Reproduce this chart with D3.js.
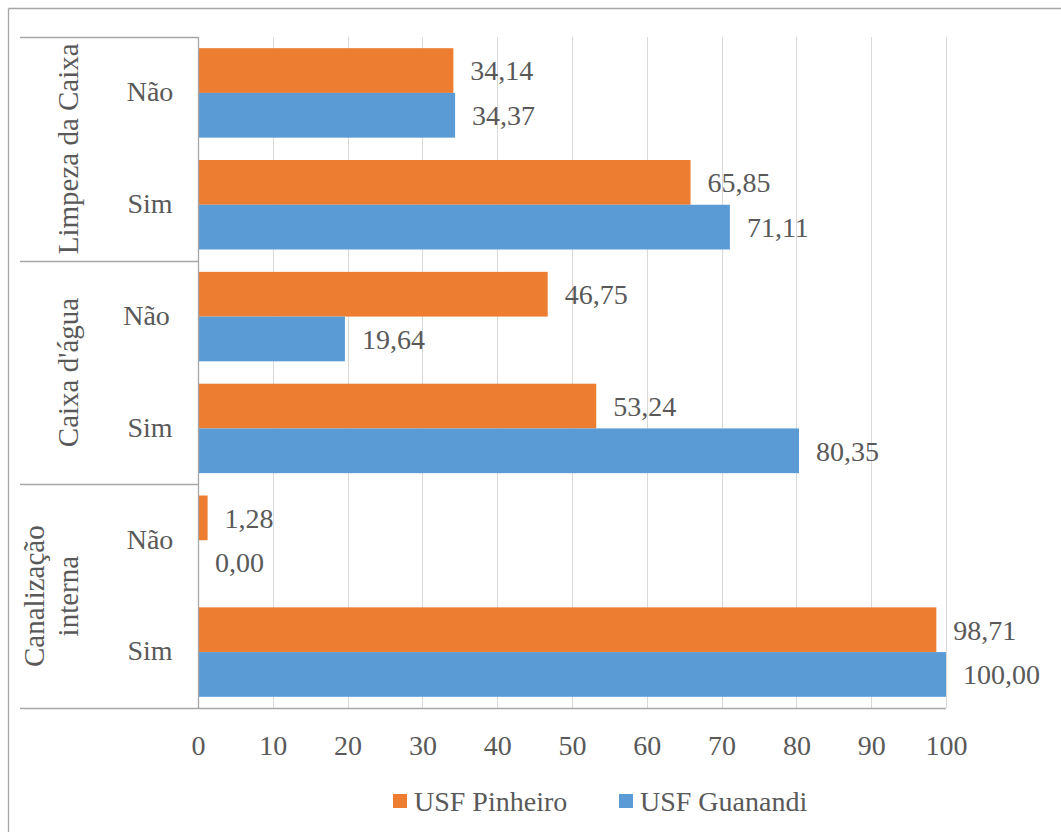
<!DOCTYPE html>
<meta charset="utf-8">
<style>
body { margin: 0; background: #fff; }
.grid line { stroke: #d9d9d9; stroke-width: 1px; }
.divider { stroke: #a6a6a6; stroke-width: 1.3px; }
</style>
<body>
<script src="https://d3js.org/d3.v7.min.js"></script>
<script>

// categories (top to bottom) and their groups
var groups = ["Limpeza da Caixa", "Caixa d'água", "Canalização interna"];
var subLabels = ["Não", "Sim", "Não ", "Sim", "Não", "Sim"];
var rowGroup = [0, 0, 1, 1, 2, 2];

// series
var seriesNames = ["USF Pinheiro", "USF Guanandi"];
var pinheiro = [34.14, 65.85, 46.75, 53.24, 1.28, 98.71];
var guanandi = [34.37, 71.11, 19.64, 80.35, 0.00, 100.00];
var colors = ["#ed7d31", "#5b9bd5"];
var xTicks = [0, 10, 20, 30, 40, 50, 60, 70, 80, 90, 100];

var FONT = "Liberation Serif";
var TXT = "#595959";

var W = 1061, H = 832;
var margin = {top: 37, right: 115, bottom: 124, left: 198},
    width = W - margin.left - margin.right,
    height = H - margin.top - margin.bottom;

var svg = d3.select("body").append("svg")
    .attr("width", W)
    .attr("height", H)
    .attr("font-family", FONT);

// outer frame (only top and left edges show)
svg.append("line").attr("class", "divider")
    .attr("x1", 8.5).attr("x2", W).attr("y1", 8.5).attr("y2", 8.5);
svg.append("line").attr("class", "divider")
    .attr("x1", 8.5).attr("x2", 8.5).attr("y1", 8.5).attr("y2", H);

var g = svg.append("g")
    .attr("transform", "translate(" + margin.left + "," + margin.top + ")");

var x = d3.scaleLinear().domain([0, 100]).range([0, width]);
var rows = d3.range(subLabels.length);
var y = d3.scaleBand().domain(rows).range([0, height])
    .paddingInner(0.2).paddingOuter(0.1);
var ySub = d3.scaleBand().domain([0, 1]).range([0, y.bandwidth()]);

var ptbr = d3.formatLocale({decimal: ",", thousands: ".", grouping: [3], currency: ["R$", ""]});
var fmt = ptbr.format(".2f");

// gridlines
g.append("g").attr("class", "grid")
    .selectAll("line")
    .data(xTicks.filter(function(d) { return d > 0; }))
    .enter().append("line")
    .attr("x1", function(d) { return Math.round(x(d)) + 0.5; })
    .attr("x2", function(d) { return Math.round(x(d)) + 0.5; })
    .attr("y1", 0).attr("y2", height);

// bars
var data = [];
rows.forEach(function(r) {
    data.push({row: r, s: 0, v: pinheiro[r]});
    data.push({row: r, s: 1, v: guanandi[r]});
});

g.selectAll(".bar")
    .data(data)
    .enter().append("rect")
    .attr("class", "bar")
    .attr("x", x(0))
    .attr("y", function(d) { return y(d.row) + ySub(d.s); })
    .attr("width", function(d) { return x(d.v) - x(0); })
    .attr("height", ySub.bandwidth())
    .attr("fill", function(d) { return colors[d.s]; });

// value labels
g.selectAll(".val")
    .data(data)
    .enter().append("text")
    .attr("class", "val")
    .attr("x", function(d) { return x(d.v) + 17; })
    .attr("y", function(d) { return y(d.row) + ySub(d.s) + ySub.bandwidth() / 2; })
    .attr("dy", "0.35em")
    .style("font-family", FONT)
    .style("font-size", "28px")
    .style("fill", TXT)
    .text(function(d) { return fmt(d.v); });

// x axis
var xAxis = g.append("g")
    .attr("transform", "translate(0," + height + ")")
    .call(d3.axisBottom(x).tickValues(xTicks).tickSize(0).tickPadding(27));
xAxis.attr("font-family", FONT);
xAxis.select(".domain").remove();
xAxis.selectAll("text")
    .style("font-size", "28px")
    .style("font-family", FONT)
    .style("fill", TXT);

// left axis line
g.append("line").attr("class", "divider")
    .attr("x1", 0.5).attr("x2", 0.5).attr("y1", 0).attr("y2", height);
// bottom axis line, extended under the category columns
g.append("line").attr("class", "divider")
    .attr("x1", 20 - margin.left).attr("x2", width).attr("y1", height + 0.5).attr("y2", height + 0.5);

// group dividers
var groupBounds = groups.map(function(gname, i) {
    var rs = rows.filter(function(r) { return rowGroup[r] === i; });
    var top = y(rs[0]) - y.step() * y.paddingOuter();
    var bottom = y(rs[rs.length - 1]) + y.bandwidth() + y.step() * y.paddingOuter();
    return {name: gname, top: top, bottom: bottom};
});
groupBounds.forEach(function(b, i) {
    if (i === 0) {
        g.append("line").attr("class", "divider")
            .attr("x1", 20 - margin.left).attr("x2", 0)
            .attr("y1", Math.round(b.top) + 0.5).attr("y2", Math.round(b.top) + 0.5);
    }
    if (i < groupBounds.length - 1) {
        g.append("line").attr("class", "divider")
            .attr("x1", 20 - margin.left).attr("x2", 0)
            .attr("y1", Math.round(b.bottom) + 0.5).attr("y2", Math.round(b.bottom) + 0.5);
    }
});

// sub-category labels
g.selectAll(".sub")
    .data(rows)
    .enter().append("text")
    .attr("class", "sub")
    .attr("x", -48)
    .attr("y", function(r) { return y(r) + y.bandwidth() / 2; })
    .attr("dy", "0.3em")
    .attr("text-anchor", "middle")
    .style("font-family", FONT)
    .style("font-size", "28px")
    .style("fill", TXT)
    .style("white-space", "pre")
    .text(function(r) { return subLabels[r]; });

// group labels (rotated), wrapped lines stack to the left
groupBounds.forEach(function(b) {
    var words = b.name === "Canalização interna" ? ["Canalização", "interna"] : [b.name];
    var cy = (b.top + b.bottom) / 2;
    var t = g.append("text")
        .attr("transform", "translate(" + (-129) + "," + cy + ") rotate(-90)")
        .attr("text-anchor", "middle")
        .style("font-family", FONT)
        .style("font-size", "29px")
        .style("fill", TXT);
    var lh = 34;
    words.forEach(function(w, k) {
        t.append("tspan")
            .attr("x", 0)
            .attr("y", (k - (words.length - 1)) * lh)
            .attr("dy", "0.3em")
            .text(w);
    });
});

// legend
var legendX = [393, 619];
var legend = svg.append("g");
seriesNames.forEach(function(name, i) {
    legend.append("rect")
        .attr("x", legendX[i]).attr("y", 794)
        .attr("width", 14).attr("height", 14)
        .attr("fill", colors[i]);
    legend.append("text")
        .attr("x", legendX[i] + 21).attr("y", 801)
        .attr("dy", "0.35em")
        .style("font-family", FONT)
        .style("font-size", "28px")
        .style("fill", TXT)
        .text(name);
});

</script>
</body>
